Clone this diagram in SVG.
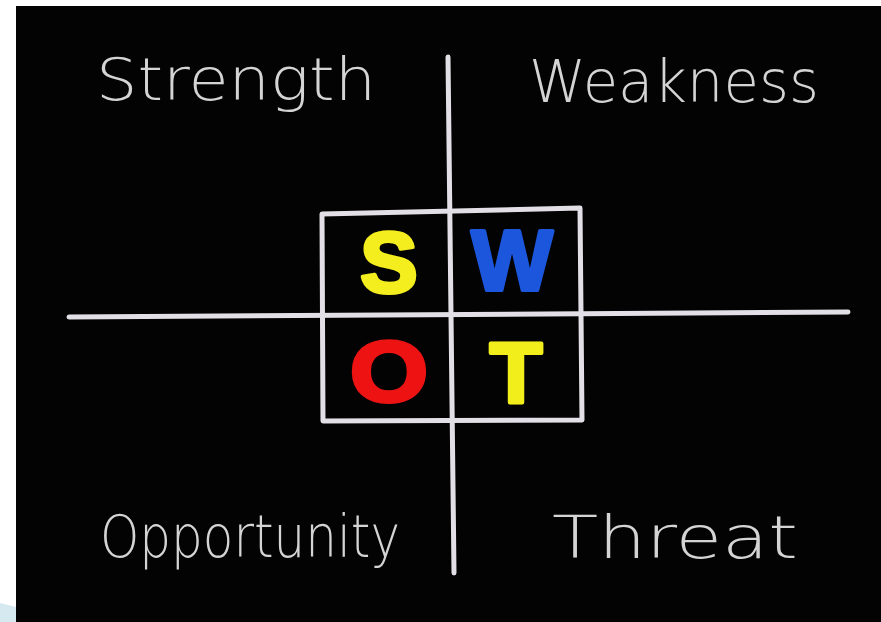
<svg xmlns="http://www.w3.org/2000/svg" width="881" height="622" viewBox="0 0 881 622">
  <style>
    .chalk { font-family: "DejaVu Sans", "Liberation Sans", sans-serif; font-weight: 200; font-size: 58px; fill: #d4d4d4; }
    .big { font-family: "Liberation Sans", Arial, sans-serif; font-weight: bold; font-size: 86px; text-anchor: middle; stroke-width: 4; stroke-linejoin: round; }
    .line { stroke: #e2e0e6; stroke-width: 5; fill: none; stroke-linecap: round; stroke-linejoin: round; }
  </style>
  <rect x="0" y="0" width="881" height="622" fill="#ffffff"/>
  <path d="M0,603 Q8,605 16,607 L16,622 L0,622 Z" fill="#d6e9f1"/>
  <rect x="16" y="6" width="865" height="616" fill="#030303"/>

  <g id="connectors">
    <path class="line" d="M448,57 L454,573"/>
    <path class="line" d="M69,317 L848,312"/>
    <path class="line" d="M322,214 L580,208 L582,420 L323,421 Z"/>
  </g>

  <g id="strength"><text class="chalk" x="96" y="100" textLength="280" lengthAdjust="spacingAndGlyphs">Strength</text></g>
  <g id="weakness"><text class="chalk" x="529" y="102" textLength="290" lengthAdjust="spacingAndGlyphs">Weakness</text></g>
  <g id="opportunity"><text class="chalk" x="100" y="557" textLength="300" lengthAdjust="spacingAndGlyphs">Opportunity</text></g>
  <g id="threat"><text class="chalk" x="552" y="558" textLength="246" lengthAdjust="spacingAndGlyphs">Threat</text></g>

  <g id="s"><text class="big" x="389" y="292" fill="#f4ee1f" stroke="#f4ee1f">S</text></g>
  <g id="w"><text class="big" x="512" y="290" fill="#1b56dc" stroke="#1b56dc">W</text></g>
  <g id="o"><text class="big" x="389" y="401" fill="#ee1313" stroke="#ee1313" textLength="78" lengthAdjust="spacingAndGlyphs">O</text></g>
  <g id="t"><text class="big" x="516" y="402" fill="#f2ee1c" stroke="#f2ee1c">T</text></g>
</svg>
